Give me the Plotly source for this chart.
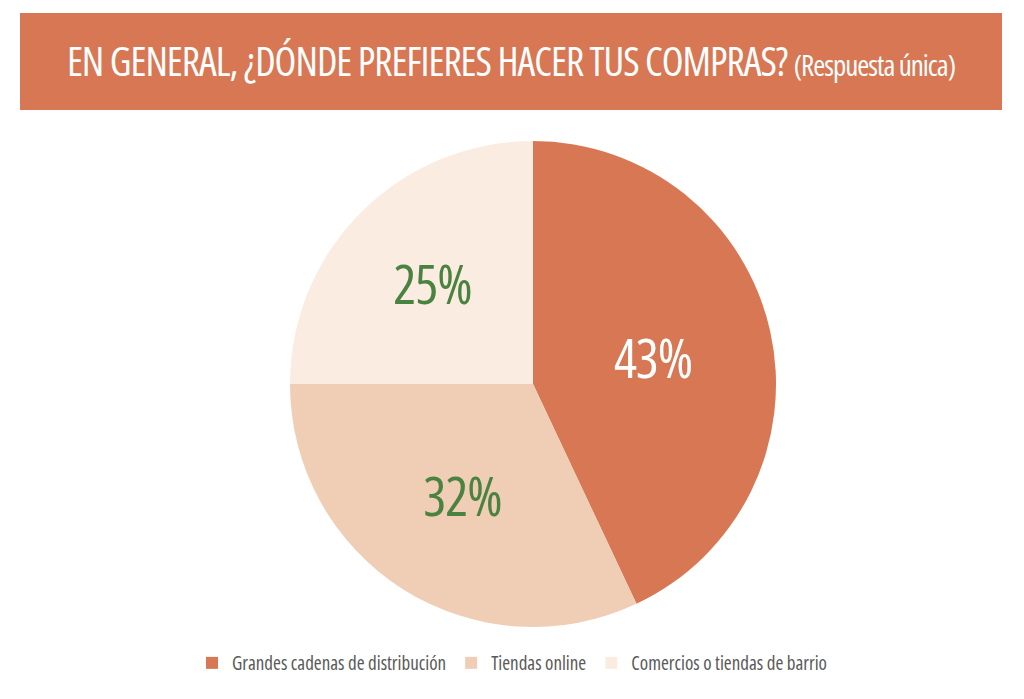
import plotly.graph_objects as go

categories = ["Grandes cadenas de distribución", "Tiendas online", "Comercios o tiendas de barrio"]
values = [43, 32, 25]
colors = ["#D87753", "#F0CEB5", "#FBECE2"]
text_colors = ["#FFFFFF", "#4A8240", "#4A8240"]

FONT = "Open Sans"
W, H = 1024, 699
COND = "font-stretch:75%;letter-spacing:-1px"

fig = go.Figure(go.Pie(
    labels=categories,
    values=values,
    sort=False,
    direction="clockwise",
    rotation=0,
    marker=dict(colors=colors, line=dict(width=0)),
    texttemplate=f"<span style='{COND}'>%{{value}}%</span>",
    textposition="inside",
    insidetextorientation="horizontal",
    textfont=dict(family=FONT, size=54, color=text_colors),
    hoverinfo="label+percent",
    domain=dict(x=[(533 - 243) / W, (533 + 243) / W], y=[1 - 627 / H, 1 - 141 / H]),
))

fig.add_shape(type="rect", xref="paper", yref="paper",
              x0=20 / W, x1=1002 / W, y0=1 - 110 / H, y1=1 - 13 / H,
              fillcolor="#D87753", line=dict(width=0), layer="below")

fig.update_layout(
    width=W, height=H,
    margin=dict(l=0, r=0, t=0, b=0),
    paper_bgcolor="white",
    plot_bgcolor="white",
    title=dict(
        text=f"<span style='{COND}'>EN GENERAL, ¿DÓNDE PREFIERES HACER TUS COMPRAS? <span style='font-size:29px'>(Respuesta única)</span></span>",
        x=511 / W, xanchor="center", y=1 - 62 / H, yanchor="middle",
        font=dict(family=FONT, size=40, color="white"),
    ),
    legend=dict(
        orientation="h", x=512 / W, xanchor="center", y=1 - 663 / H, yanchor="middle",
        font=dict(family=FONT, size=19, color="#595959"),
        itemwidth=30, traceorder="normal",
    ),
)

post = """
document.body.style.margin='0';
var st=document.createElement('style');
st.textContent='.legendtext{font-stretch:75% !important;}';
document.head.appendChild(st);
var gd=document.getElementById('{plot_id}');
Plotly.relayout(gd, {'legend.font.size': 19.01});
"""

fig.write_html("out.html", post_script=post, config={"displayModeBar": False})
